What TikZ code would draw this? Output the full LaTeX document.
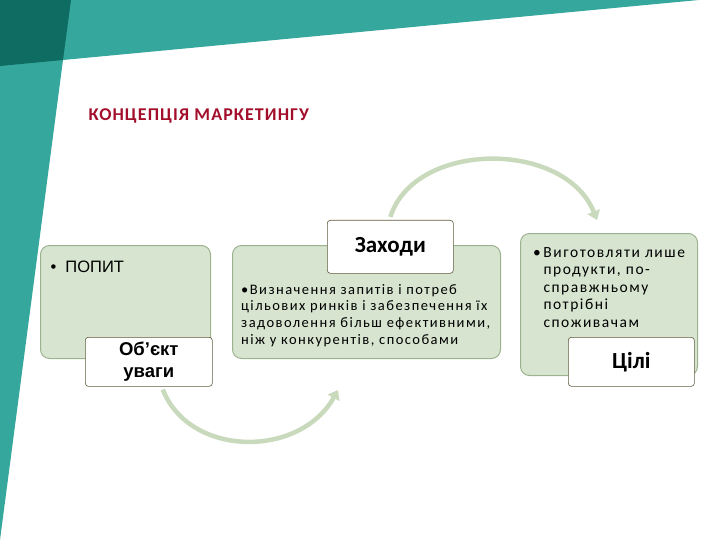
\documentclass[tikz,border=0pt]{standalone}
\usepackage{fontspec}
\setmainfont{Carlito}
\newfontfamily\arialfont{Liberation Sans}
\newfontfamily\spacedfont[LetterSpace=10]{Carlito}
\newfontfamily\titlefont[LetterSpace=6]{Carlito}
\usetikzlibrary{arrows.meta}
\definecolor{tealband}{HTML}{35A79C}
\definecolor{tealdark}{HTML}{0F6C62}
\definecolor{boxgreen}{HTML}{D6E4D0}
\definecolor{boxedge}{HTML}{9DB38F}
\definecolor{tabedge}{HTML}{605B3E}
\definecolor{arrowgreen}{HTML}{C8DABB}
\definecolor{titlered}{HTML}{A30F2B}
\tikzset{
	bigbox/.style={draw=boxedge, fill=boxgreen, rounded corners=9pt, line width=1pt, anchor=north west, inner sep=0pt},
	tabbox/.style={draw=tabedge, fill=white, rounded corners=3pt, line width=0.6pt, anchor=north west, inner sep=0pt, align=center},
	flow/.style={arrowgreen, line width=4.5pt, -{Triangle[length=9pt,width=13pt]}}
}

\begin{document}
\begin{tikzpicture}[x=1pt, y=-1pt]
		\useasboundingbox (0,0) rectangle (720,540);
		% background band
		\fill[tealband] (0,0) -- (720,0) -- (720,-2) -- (63,60) -- (0,540) -- cycle;
		\fill[tealdark] (0,0) -- (71,0) -- (63,60) -- (0,66) -- cycle;
		\node[anchor=west, text=titlered, font=\titlefont\bfseries\fontsize{18}{20}\selectfont] (title) at (85,116) {КОНЦЕПЦІЯ МАРКЕТИНГУ};
		% arrows
		\coordinate (a1end) at (338,390);
		\coordinate (a2end) at (597,220);
		% boxes
		\node[bigbox, minimum width=170, minimum height=113] (popit) at (40,245) {};
		\node[bigbox, minimum width=268, minimum height=113] (zakhodybox) at (232,245) {};
		\node[bigbox, minimum width=177, minimum height=142] (tsilibox) at (520,233) {};
		\node[anchor=west, font=\arialfont\fontsize{16.5}{18}\selectfont] (popittxt) at (47,267) {•\ \ ПОПИТ};
		\node[anchor=north west, align=left, inner sep=0pt, font=\spacedfont\fontsize{14.5}{16.8}\selectfont] (zakhodytxt) at (241,284)
			{•Визначення запитів і потреб\\цільових ринків і забезпечення їх\\задоволення більш ефективними,\\ніж у конкурентів, способами};
		\node[anchor=north west, inner sep=0pt, font=\spacedfont\fontsize{15.5}{17.5}\selectfont] (tsilitxt) at (533,245)
			{\begin{tabular}{@{}l@{\,}l@{}}•&Виготовляти лише\\&продукти, по-\\&справжньому\\&потрібні\\&споживачам\end{tabular}};
		\node[tabbox, minimum width=127, minimum height=49, font=\arialfont\bfseries\fontsize{18.5}{22}\selectfont] (objekt) at (85,337) {Об’єкт\\уваги};
		\node[tabbox, minimum width=126, minimum height=53, font=\bfseries\fontsize{23}{24}\selectfont] (zakhody) at (327,220) {Заходи};
		\node[tabbox, minimum width=126, minimum height=49, font=\bfseries\fontsize{23}{24}\selectfont] (tsili) at (568,337) {Цілі};
		\draw[flow] ([xshift=14pt,yshift=-3pt]objekt.south) .. controls (190,458) and (300,458) .. (a1end);
		\draw[flow] ([yshift=3pt]zakhody.north) .. controls (415,140) and (565,140) .. (a2end);
\end{tikzpicture}
\end{document}
